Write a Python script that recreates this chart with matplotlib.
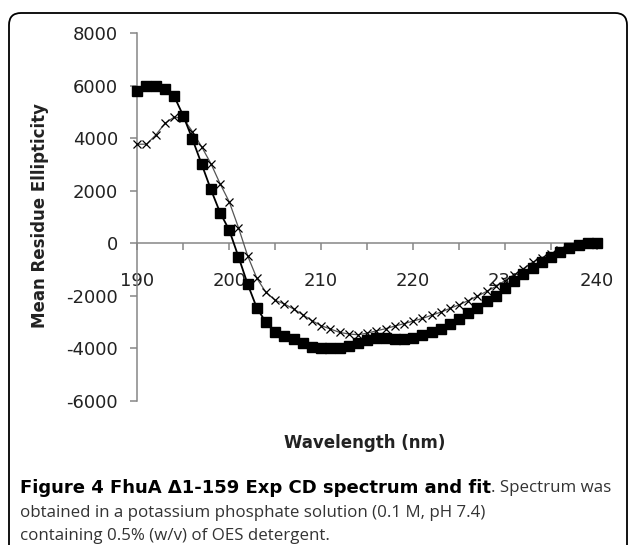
import matplotlib.pyplot as plt
from matplotlib.patches import FancyBboxPatch
from matplotlib.transforms import IdentityTransform
import numpy as np

W, H = 630, 545

# wavelength (nm) and mean residue ellipticity
wavelength = np.arange(190, 241)
cd_spectrum = [5800, 6000, 6000, 5870, 5600, 4850, 3960, 3010, 2050, 1170,
               500, -510, -1550, -2460, -3010, -3390, -3520, -3640, -3800, -3930,
               -3980, -4000, -3980, -3900, -3780, -3680, -3600, -3600, -3650, -3650,
               -3600, -3500, -3380, -3250, -3080, -2880, -2650, -2450, -2200, -2000,
               -1720, -1450, -1180, -950, -720, -520, -320, -170, -50, 20,
               20]
cd_fit = [3770, 3770, 4115, 4560, 4800, 4750, 4250, 3670, 3035, 2270,
          1577, 600, -475, -1330, -1870, -2170, -2310, -2500, -2720, -2945,
          -3135, -3260, -3390, -3450, -3480, -3420, -3330, -3250, -3150, -3060,
          -2960, -2860, -2740, -2620, -2480, -2340, -2180, -2010, -1830, -1640,
          -1420, -1200, -960, -720, -550, -400, -260, -140, -60, -10,
          0]

x_ticks = np.arange(190, 241, 5)
x_labels = [str(t) if t % 10 == 0 else '' for t in x_ticks]
y_ticks = np.arange(-6000, 8001, 2000)

caption_bold = 'Figure 4 FhuA \u03941-159 Exp CD spectrum and fit'
caption_rest = '. Spectrum was'
caption_line2 = 'obtained in a potassium phosphate solution (0.1 M, pH 7.4)'
caption_line3 = 'containing 0.5% (w/v) of OES detergent.'

axis_grey = '#868686'
tick_font = {'family': 'DejaVu Sans', 'size': 13, 'color': '#222222'}

fig = plt.figure(figsize=(W / 100, H / 100), dpi=100)
fig.patch.set_facecolor('white')

# rounded frame around figure + caption
frame = FancyBboxPatch((9, -30), 618, H - 13 + 30,
                       boxstyle='round,pad=0,rounding_size=12',
                       transform=IdentityTransform(), fill=False,
                       edgecolor='black', linewidth=1.3)
fig.patches.append(frame)

ax = fig.add_axes([137.3 / W, 1 - 401 / H, (597 - 137.3) / W, (401 - 33) / H])
ax.set_facecolor('none')

ax.plot(wavelength, cd_fit, '-', color='#555555', linewidth=0.9,
        marker='x', markersize=6, markeredgewidth=0.9, markeredgecolor='black',
        clip_on=False, zorder=3)
ax.plot(wavelength, cd_spectrum, '-', color='black', linewidth=1.3,
        marker='s', markersize=6.5, markerfacecolor='black',
        markeredgecolor='black', clip_on=False, zorder=4)

ax.set_xlim(190, 240)
ax.set_ylim(-6000, 8000)

for side in ['top', 'right']:
    ax.spines[side].set_visible(False)
ax.spines['bottom'].set_position(('data', 0))
for side in ['bottom', 'left']:
    ax.spines[side].set_color(axis_grey)
    ax.spines[side].set_linewidth(1.1)

ax.set_xticks(x_ticks)
ax.set_xticklabels(x_labels, fontdict=tick_font)
ax.set_yticks(y_ticks)
ax.set_yticklabels([str(t) for t in y_ticks], fontdict=tick_font)
ax.tick_params(axis='x', direction='out', length=5, width=1.1, color=axis_grey, pad=16)
ax.tick_params(axis='y', direction='out', length=5, width=1.1, color=axis_grey, pad=9)

fig.text(365 / W, 1 - 443 / H, 'Wavelength (nm)', ha='center', va='center',
         family='DejaVu Sans', fontsize=12, fontweight='bold', color='#222222')
fig.text(40 / W, 1 - 215 / H, 'Mean Residue Ellipticity', ha='center', va='center',
         rotation=90, family='DejaVu Sans', fontsize=12, fontweight='bold',
         color='#222222')

# caption: scale the font so each piece spans the width it has in the picture
renderer = fig.canvas.get_renderer()


def fitted_text(x, y, s, width, **kw):
    t = fig.text(x / W, 1 - y / H, s, ha='left', va='center', fontsize=10, **kw)
    w = t.get_window_extent(renderer=renderer).width
    t.set_fontsize(10 * width / w)
    return t


bold = fitted_text(20, 488, caption_bold, 472, family='DejaVu Sans',
                   fontweight='bold', color='black')
bb = bold.get_window_extent(renderer=renderer)
reg_size = 12.2
fig.text(bb.x1 / W, 1 - 488 / H, caption_rest, ha='left', va='center',
         family='Open Sans', fontsize=reg_size, color='#333333')
fig.text(20 / W, 1 - 513 / H, caption_line2, ha='left', va='center',
         family='Open Sans', fontsize=reg_size, color='#333333')
fig.text(20 / W, 1 - 536 / H, caption_line3, ha='left', va='center',
         family='Open Sans', fontsize=reg_size, color='#333333')

fig.savefig('out.png', dpi=100)
